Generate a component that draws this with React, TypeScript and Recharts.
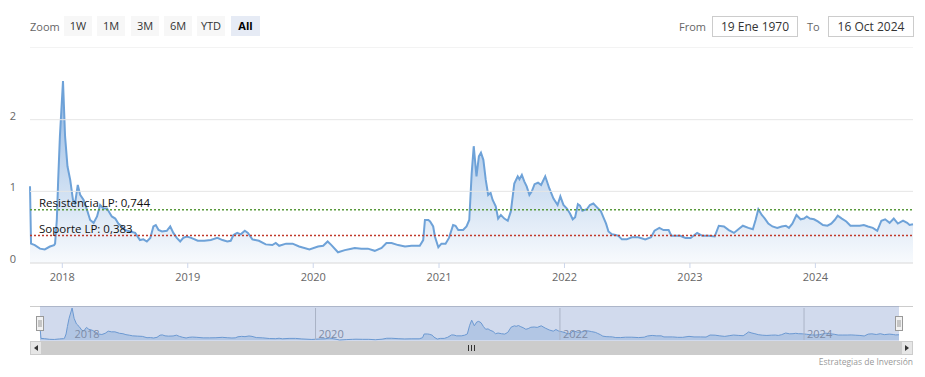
import React from 'react';
import { AreaChart, Area, XAxis, YAxis, ReferenceLine } from 'recharts';

// weekly-ish readings of the ratio
const dates = [
  '2017-09-29', '2017-10-02', '2017-10-13', '2017-10-28', '2017-11-11', '2017-11-26', '2017-12-08', '2017-12-11',
  '2017-12-16', '2017-12-20', '2017-12-25', '2018-01-03', '2018-01-09', '2018-01-16', '2018-01-24', '2018-02-01',
  '2018-02-07', '2018-02-15', '2018-02-22', '2018-03-04', '2018-03-14', '2018-03-23', '2018-04-02', '2018-04-12',
  '2018-04-21', '2018-05-01', '2018-05-11', '2018-05-25', '2018-06-04', '2018-06-13', '2018-06-23', '2018-07-03',
  '2018-07-17', '2018-08-01', '2018-08-15', '2018-08-25', '2018-09-04', '2018-09-14', '2018-09-23', '2018-09-30',
  '2018-10-08', '2018-10-18', '2018-11-01', '2018-11-11', '2018-11-20', '2018-11-30', '2018-12-10', '2018-12-19',
  '2018-12-29', '2019-01-11', '2019-01-30', '2019-02-18', '2019-03-09', '2019-03-28', '2019-04-12', '2019-04-26',
  '2019-05-06', '2019-05-14', '2019-05-25', '2019-06-04', '2019-06-16', '2019-06-25', '2019-07-08', '2019-07-27',
  '2019-08-16', '2019-09-04', '2019-09-14', '2019-09-24', '2019-10-14', '2019-11-02', '2019-11-21', '2019-12-21',
  '2020-01-15', '2020-01-30', '2020-02-12', '2020-02-23', '2020-03-13', '2020-04-02', '2020-04-21', '2020-05-01',
  '2020-05-20', '2020-06-08', '2020-06-28', '2020-07-18', '2020-08-01', '2020-08-16', '2020-09-04', '2020-09-24',
  '2020-10-13', '2020-11-06', '2020-11-16', '2020-11-21', '2020-12-01', '2020-12-06', '2020-12-15', '2020-12-20',
  '2020-12-30', '2021-01-08', '2021-01-20', '2021-01-30', '2021-02-11', '2021-02-18', '2021-02-26', '2021-03-12',
  '2021-03-22', '2021-03-30', '2021-04-06', '2021-04-12', '2021-04-20', '2021-04-27', '2021-05-03', '2021-05-10',
  '2021-05-17', '2021-05-24', '2021-05-31', '2021-06-06', '2021-06-15', '2021-06-22', '2021-06-30', '2021-07-10',
  '2021-07-20', '2021-07-29', '2021-08-08', '2021-08-18', '2021-08-23', '2021-08-30', '2021-09-06', '2021-09-13',
  '2021-09-21', '2021-09-28', '2021-10-06', '2021-10-16', '2021-10-25', '2021-11-06', '2021-11-18', '2021-11-30',
  '2021-12-12', '2021-12-20', '2021-12-29', '2022-01-08', '2022-01-17', '2022-01-25', '2022-02-01', '2022-02-09',
  '2022-02-15', '2022-02-22', '2022-03-07', '2022-03-16', '2022-03-26', '2022-04-05', '2022-04-17', '2022-04-24',
  '2022-05-02', '2022-05-09', '2022-05-19', '2022-05-30', '2022-06-07', '2022-06-17', '2022-07-01', '2022-07-16',
  '2022-08-04', '2022-08-24', '2022-09-10', '2022-09-20', '2022-10-04', '2022-10-16', '2022-10-31', '2022-11-08',
  '2022-11-20', '2022-12-04', '2022-12-19', '2023-01-03', '2023-01-22', '2023-02-06', '2023-02-25', '2023-03-14',
  '2023-03-26', '2023-04-10', '2023-04-24', '2023-05-09', '2023-05-22', '2023-06-04', '2023-06-20', '2023-07-03',
  '2023-07-11', '2023-07-19', '2023-07-29', '2023-08-07', '2023-08-17', '2023-08-29', '2023-09-12', '2023-09-25',
  '2023-10-07', '2023-10-16', '2023-10-26', '2023-11-07', '2023-11-19', '2023-11-29', '2023-12-07', '2023-12-16',
  '2023-12-28', '2024-01-08', '2024-01-23', '2024-02-05', '2024-02-16', '2024-02-26', '2024-03-06', '2024-03-18',
  '2024-03-31', '2024-04-12', '2024-04-24', '2024-05-09', '2024-05-21', '2024-06-02', '2024-06-16', '2024-06-29',
  '2024-07-11', '2024-07-22', '2024-08-04', '2024-08-16', '2024-08-28', '2024-09-12', '2024-09-24', '2024-10-01',
  '2024-10-11',
];

const ratio = [
  1.07, 0.27, 0.25, 0.20, 0.19, 0.23, 0.25, 0.27,
  0.60, 1.16, 1.77, 2.54, 1.77, 1.35, 1.16, 0.88,
  0.83, 1.09, 0.95, 0.88, 0.74, 0.60, 0.56, 0.65,
  0.81, 0.76, 0.76, 0.65, 0.62, 0.55, 0.51, 0.46,
  0.44, 0.42, 0.32, 0.33, 0.30, 0.35, 0.51, 0.53,
  0.46, 0.44, 0.45, 0.51, 0.42, 0.35, 0.30, 0.35,
  0.37, 0.35, 0.31, 0.31, 0.32, 0.35, 0.32, 0.30,
  0.31, 0.39, 0.42, 0.40, 0.45, 0.42, 0.33, 0.31,
  0.26, 0.25, 0.28, 0.24, 0.27, 0.27, 0.23, 0.19,
  0.23, 0.24, 0.30, 0.25, 0.15, 0.18, 0.20, 0.21,
  0.20, 0.20, 0.17, 0.21, 0.28, 0.28, 0.25, 0.23,
  0.24, 0.24, 0.32, 0.60, 0.60, 0.58, 0.51, 0.37,
  0.22, 0.27, 0.27, 0.35, 0.53, 0.52, 0.46, 0.46,
  0.51, 0.60, 1.25, 1.63, 1.21, 1.49, 1.54, 1.44,
  1.16, 0.95, 0.98, 0.88, 0.79, 0.62, 0.67, 0.62,
  0.59, 0.72, 1.11, 1.21, 1.17, 1.23, 1.14, 1.07,
  0.95, 1.00, 1.10, 1.12, 1.09, 1.21, 1.04, 0.90,
  0.81, 0.93, 0.81, 0.76, 0.69, 0.61, 0.64, 0.82,
  0.80, 0.73, 0.75, 0.81, 0.83, 0.78, 0.72, 0.64,
  0.55, 0.44, 0.40, 0.39, 0.38, 0.33, 0.33, 0.36,
  0.36, 0.33, 0.36, 0.45, 0.49, 0.46, 0.46, 0.38,
  0.38, 0.38, 0.35, 0.35, 0.42, 0.38, 0.38, 0.37,
  0.52, 0.51, 0.46, 0.42, 0.47, 0.52, 0.49, 0.47,
  0.60, 0.75, 0.67, 0.62, 0.55, 0.51, 0.49, 0.51,
  0.52, 0.49, 0.55, 0.67, 0.61, 0.62, 0.65, 0.62,
  0.61, 0.58, 0.53, 0.52, 0.55, 0.60, 0.66, 0.62,
  0.58, 0.52, 0.52, 0.52, 0.53, 0.51, 0.49, 0.45,
  0.59, 0.61, 0.56, 0.62, 0.55, 0.59, 0.56, 0.53,
  0.54,
];

const yearLabels = ['2018', '2019', '2020', '2021', '2022', '2023', '2024'];
const navigatorYears = ['2018', '2020', '2022', '2024'];
const yTicks = [0, 1, 2];

const levelNames = ['Resistencia LP', 'Soporte LP'];
const levelValues = [0.744, 0.383];
const levelColors = ['#5a9a3c', '#c0392b'];

const zoomButtons = ['1W', '1M', '3M', '6M', 'YTD', 'All'];
const rangeFrom = '19 Ene 1970';
const rangeTo = '16 Oct 2024';
const credits = 'Estrategias de Inversión';

const FONT = '"Open Sans", "Noto Sans", sans-serif';
const LINE = '#6ea2d8';

const points = dates.map((d, i) => ({ t: Date.parse(d), v: ratio[i] }));
const yearTime = (y: string) => Date.parse(`${y}-01-01`);
const fmtLevel = (v: number) => v.toFixed(3).replace('.', ',');

const YTick = (p: any) => (
  <text x={13} y={p.y} textAnchor="middle" fill="#666" fontSize={11} fontFamily={FONT}>
    {p.payload.value}
  </text>
);

const btnLeft = [64, 97, 131, 164, 197, 231];

const App: React.FC = () => {
  return (
    <div style={{ position: 'absolute', left: 0, top: 0, width: 925, height: 377, fontFamily: FONT, background: '#fff' }}>
      {/* range selector */}
      <div style={{ position: 'absolute', left: 30, top: 17, lineHeight: '19px', fontSize: 11, color: '#666' }}>Zoom</div>
      {zoomButtons.map((b, i) => (
        <div
          key={b}
          style={{
            position: 'absolute', left: btnLeft[i], top: 16, width: b === 'All' ? 29 : 28, height: 20,
            lineHeight: '20px', textAlign: 'center', fontSize: 11,
            background: b === 'All' ? '#e6ebf5' : '#f7f7f7',
            color: b === 'All' ? '#000' : '#333', fontWeight: b === 'All' ? 700 : 400,
          }}
        >
          {b}
        </div>
      ))}
      <div style={{ position: 'absolute', left: 679, top: 17, lineHeight: '19px', fontSize: 11, color: '#666' }}>From</div>
      <div style={{ position: 'absolute', left: 712, top: 16, width: 84, height: 19, border: '1px solid #ccc', lineHeight: '19px', textAlign: 'center', fontSize: 12, color: '#333' }}>{rangeFrom}</div>
      <div style={{ position: 'absolute', left: 807, top: 17, lineHeight: '19px', fontSize: 11, color: '#666' }}>To</div>
      <div style={{ position: 'absolute', left: 828, top: 16, width: 84, height: 19, border: '1px solid #ccc', lineHeight: '19px', textAlign: 'center', fontSize: 12, color: '#333' }}>{rangeTo}</div>
      <div style={{ position: 'absolute', left: 30, top: 47, width: 883, height: 1, background: '#f3f3f3' }} />

      {/* main chart */}
      <div style={{ position: 'absolute', left: 0, top: 0 }}>
        <AreaChart width={925} height={290} data={points} margin={{ top: 81, right: 12, bottom: 7, left: 0 }}>
          <defs>
            <linearGradient id="ratioFill" x1="0" y1="0" x2="0" y2="1">
              <stop offset="0%" stopColor="#4f8bd0" stopOpacity={0.62} />
              <stop offset="100%" stopColor="#4f8bd0" stopOpacity={0.04} />
            </linearGradient>
          </defs>
          {yTicks.filter((v) => v > 0).map((v) => (
            <ReferenceLine key={`grid-${v}`} y={v} stroke="#e6e6e6" />
          ))}
          <XAxis
            dataKey="t"
            type="number"
            scale="time"
            domain={['dataMin', 'dataMax']}
            ticks={yearLabels.map(yearTime)}
            tickFormatter={(t: number) => String(new Date(t).getUTCFullYear())}
            height={20}
            axisLine={{ stroke: '#d8d8d8' }}
            tickLine={{ stroke: '#ccd6eb' }}
            tickSize={5}
            tickMargin={5}
            tick={{ fill: '#666', fontSize: 11, fontFamily: FONT }}
          />
          <YAxis domain={[0, 2.54]} ticks={yTicks} width={30} axisLine={false} tickLine={false} tick={YTick} />
          <Area
            type="linear"
            dataKey="v"
            stroke={LINE}
            strokeWidth={2}
            fill="url(#ratioFill)"
            fillOpacity={1}
            dot={false}
            activeDot={false}
            isAnimationActive={false}
          />
          {levelValues.map((v, i) => (
            <ReferenceLine
              key={levelNames[i]}
              y={v}
              stroke={levelColors[i]}
              strokeWidth={1.5}
              strokeDasharray="2 2"
              label={(p: any) => (
                <text x={p.viewBox.x + 9} y={p.viewBox.y - 3} fill="#111" fontSize={11.5} fontFamily={FONT}>
                  {`${levelNames[i]}: ${fmtLevel(v)}`}
                </text>
              )}
            />
          ))}
        </AreaChart>
      </div>

      {/* navigator */}
      <div style={{ position: 'absolute', left: 0, top: 300 }}>
        <AreaChart width={925} height={45} data={points} margin={{ top: 8, right: 26, bottom: 5, left: 40 }}>
          <XAxis dataKey="t" type="number" scale="time" domain={['dataMin', 'dataMax']} hide />
          <YAxis domain={[0.15, 2.54]} hide />
          {navigatorYears.map((y) => (
            <ReferenceLine
              key={y}
              x={yearTime(y)}
              stroke={y === '2018' ? 'none' : '#c8c8c8'}
              label={(p: any) => (
                <text x={p.viewBox.x + 3} y={p.viewBox.y + p.viewBox.height - 2} fill="#8a8f99" fontSize={11} fontFamily={FONT}>
                  {y}
                </text>
              )}
            />
          ))}
          <Area
            type="linear"
            dataKey="v"
            stroke={LINE}
            strokeWidth={1}
            fill={LINE}
            fillOpacity={0.3}
            dot={false}
            activeDot={false}
            isAnimationActive={false}
          />
        </AreaChart>
      </div>

      {/* navigator mask, handles and scrollbar */}
      <svg width={925} height={377} style={{ position: 'absolute', left: 0, top: 0, pointerEvents: 'none' }}>
        <line x1={30} x2={913} y1={306.5} y2={306.5} stroke="#cccccc" />
        <rect x={40} y={306} width={859} height={35} fill="rgba(102,133,194,0.3)" />
        <rect x={30} y={341} width={883} height={14} fill="#f2f2f2" />
        <rect x={42} y={341} width={859} height={14} fill="#cccccc" />
        <rect x={30.5} y={341.5} width={11} height={13} fill="#e6e6e6" stroke="#cccccc" />
        <path d="M38,345 L34,348 L38,351 Z" fill="#333" />
        <rect x={901.5} y={341.5} width={11} height={13} fill="#e6e6e6" stroke="#cccccc" />
        <path d="M905,345 L909,348 L905,351 Z" fill="#333" />
        {[468.5, 471.5, 474.5].map((x) => (
          <line key={x} x1={x} x2={x} y1={345} y2={351} stroke="#333" />
        ))}
        {[40, 899].map((x) => (
          <g key={x}>
            <rect x={x - 3.5} y={316.5} width={7} height={14} fill="#f2f2f2" stroke="#999" />
            <line x1={x - 1} x2={x - 1} y1={320} y2={327} stroke="#999" />
            <line x1={x + 1} x2={x + 1} y1={320} y2={327} stroke="#999" />
          </g>
        ))}
      </svg>

      <div style={{ position: 'absolute', right: 12, top: 356, fontSize: 8.5, color: '#999', whiteSpace: 'nowrap' }}>{credits}</div>
    </div>
  );
};

export default App;
